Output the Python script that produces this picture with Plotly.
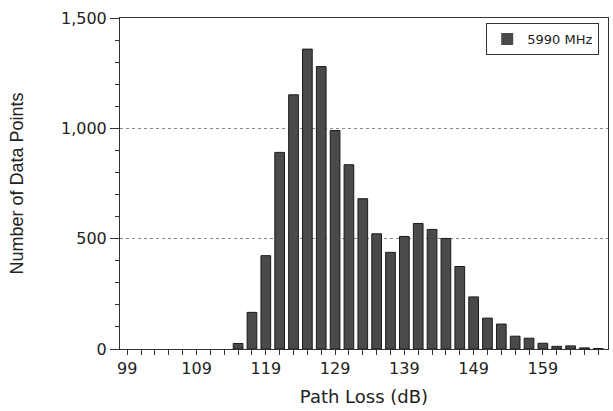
import plotly.graph_objects as go

# Path loss bin centres (dB), 2 dB bins
path_loss = list(range(99, 169, 2))
# Number of data points per bin (5990 MHz)
counts = [0, 0, 0, 0, 0, 0, 0, 0,
          25, 166, 423, 891, 1152, 1359, 1280, 990, 835, 681, 522, 438,
          510, 569, 542, 501, 374, 236, 140, 113, 58, 49, 26, 12, 14, 5, 2]
series_name = "5990 MHz"
x_tick_vals = [99, 109, 119, 129, 139, 149, 159]
y_tick_vals = [0, 500, 1000, 1500]
y_tick_text = ["0", "500", "1,000", "1,500"]

outline_widths = [1 if c > 0 else 0 for c in counts]

fig = go.Figure()
fig.add_trace(go.Bar(
    x=path_loss, y=counts, name=series_name,
    marker=dict(color="#4a4a4a", line=dict(color="#1a1a1a", width=outline_widths)),
    width=1.4, showlegend=True,
))

tick_font = dict(family="DejaVu Sans", size=16, color="#222")
fig.update_layout(
    width=613, height=411,
    margin=dict(l=120, r=5, t=18, b=62),
    paper_bgcolor="white", plot_bgcolor="white",
    showlegend=True,
    legend=dict(x=0.982, y=0.985, xanchor="right", yanchor="top",
                bordercolor="#333", borderwidth=1, bgcolor="white",
                font=dict(family="DejaVu Sans", size=13, color="#222"),
                itemwidth=30),
    xaxis=dict(
        range=[97.95, 168.4],
        tickmode="array", tickvals=x_tick_vals,
        ticks="outside", ticklen=5, tickcolor="#333",
        minor=dict(tick0=99, dtick=2, ticks="outside", ticklen=5, tickcolor="#333"),
        showline=True, linecolor="#333", linewidth=1, mirror=True,
        showgrid=False, zeroline=False,
        tickfont=tick_font,
        title=dict(text="Path Loss (dB)",
                   font=dict(family="DejaVu Sans", size=18, color="#222"),
                   standoff=13),
    ),
    yaxis=dict(
        range=[0, 1500],
        tickmode="array", tickvals=y_tick_vals, ticktext=y_tick_text,
        ticks="outside", ticklen=9, tickcolor="#333",
        minor=dict(dtick=100, ticks="outside", ticklen=4, tickcolor="#333", showgrid=False),
        showline=True, linecolor="#333", linewidth=1, mirror=True,
        showgrid=True, gridcolor="#888", griddash="dot", gridwidth=1,
        zeroline=False,
        tickfont=tick_font,
        title=dict(text="Number of Data Points",
                   font=dict(family="Liberation Sans", size=18, color="#222"),
                   standoff=32),
    ),
)

fig.write_html("out.html")
